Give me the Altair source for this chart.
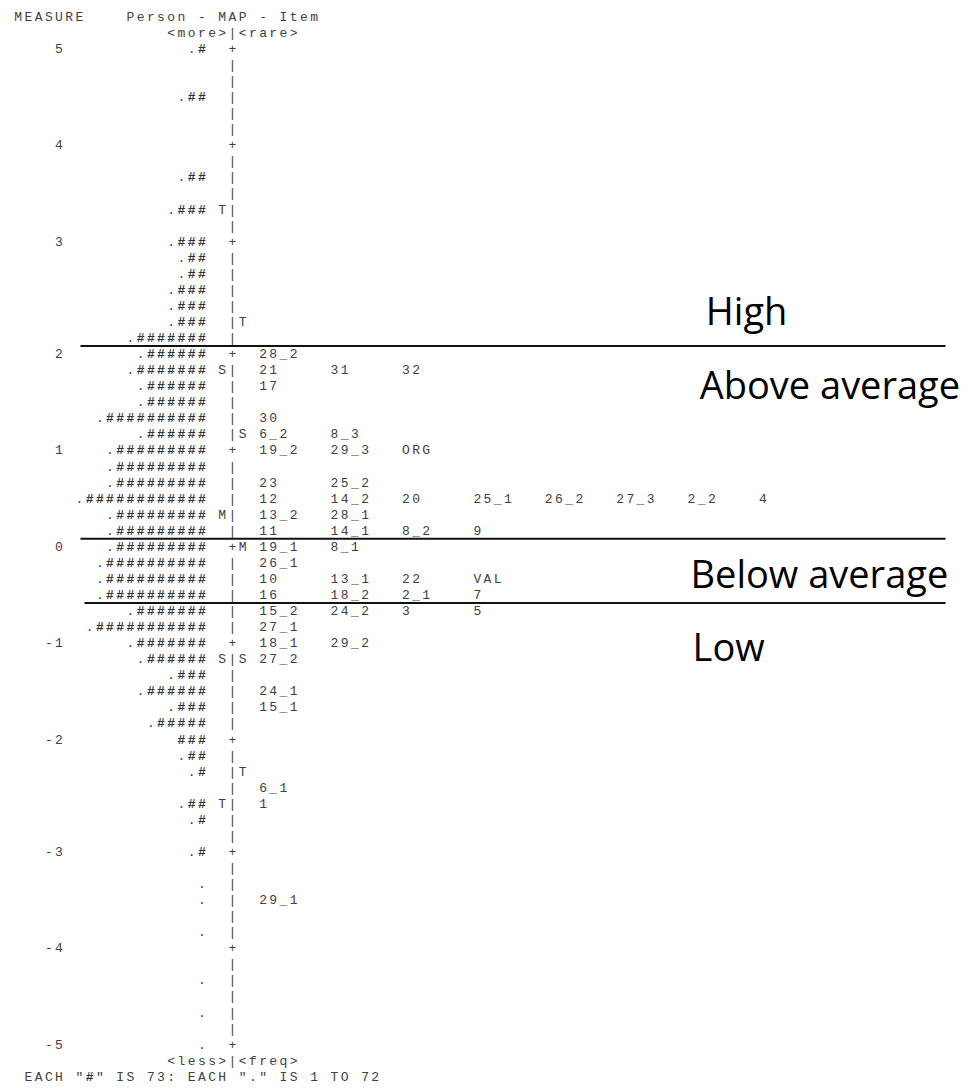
import altair as alt
import pandas as pd

measure_labels = ["5", "4", "3", "2", "1", "0", "-1", "-2", "-3", "-4", "-5"]
measure_rows = [0, 6, 12, 19, 25, 31, 37, 43, 50, 56, 62]

persons = [
    ".#", "", "", ".##", "", "", "",
    "", ".##", "", ".###", "", ".###",
    ".##", ".##", ".###", ".###", ".###", ".#######",
    ".######", ".#######", ".######", ".######", ".##########", ".######",
    ".#########", ".#########", ".#########", ".############", ".#########", ".#########",
    ".#########", ".##########", ".##########", ".##########", ".#######", ".###########",
    ".#######", ".######", ".###", ".######", ".###", ".#####",
    "###", ".##", ".#", "", ".##", ".#", "",
    ".#", "", ".", ".", "", ".",
    "", "", ".", "", ".", "", ".",
]

left_markers = {10: "T", 20: "S", 29: "M", 38: "S", 47: "T"}
right_markers = {17: "T", 24: "S", 31: "M", 38: "S", 45: "T"}

items = {
    19: ["28_2"],
    20: ["21", "31", "32"],
    21: ["17"],
    23: ["30"],
    24: ["6_2", "8_3"],
    25: ["19_2", "29_3", "ORG"],
    27: ["23", "25_2"],
    28: ["12", "14_2", "20", "25_1", "26_2", "27_3", "2_2", "4"],
    29: ["13_2", "28_1"],
    30: ["11", "14_1", "8_2", "9"],
    31: ["19_1", "8_1"],
    32: ["26_1"],
    33: ["10", "13_1", "22", "VAL"],
    34: ["16", "18_2", "2_1", "7"],
    35: ["15_2", "24_2", "3", "5"],
    36: ["27_1"],
    37: ["18_1", "29_2"],
    38: ["27_2"],
    40: ["24_1"],
    41: ["15_1"],
    46: ["6_1"],
    47: ["1"],
    53: ["29_1"],
}

header_lines = [
    (-2, 0, "MEASURE"),
    (-2, 11, "Person - MAP - Item"),
    (-1, 15, "<more>|<rare>"),
    (63, 15, "<less>|<freq>"),
    (64, 1, 'EACH "#" IS 73: EACH "." IS 1 TO 72'),
]

# cut lines between bands (row boundaries, column extent)
cut_rows = [18.5, 30.5, 34.5]
cut_x1 = [6.1, 6.1, 6.5]
cut_x2 = [90.9, 90.9, 90.9]

band_labels = ["High", "Above average", "Below average", "Low"]
band_rows = [16.5, 21.1, 32.85, 37.4]
band_cols = [67.4, 66.8, 65.9, 66.1]

# ---- build a character table in Winsteps' fixed-column layout ----
chars = []


def put(row, col, s):
    for i, ch in enumerate(s):
        if ch != " ":
            chars.append({"row": row, "col": col + i, "ch": ch})


for r, c, s in header_lines:
    put(r, c, s)

for lab, r in zip(measure_labels, measure_rows):
    put(r, 5 - len(lab), lab)

for r, p in enumerate(persons):
    put(r, 19 - len(p), p)
    put(r, 21, "+" if r in measure_rows else "|")
    if r in left_markers:
        put(r, 20, left_markers[r])
    if r in right_markers:
        put(r, 22, right_markers[r])
    for k, it in enumerate(items.get(r, [])):
        put(r, 24 + 7 * k, it)

char_df = pd.DataFrame(chars)
hash_df = char_df[char_df["ch"] == "#"]
other_df = char_df[char_df["ch"] != "#"]
cut_df = pd.DataFrame({"row": cut_rows, "x1": cut_x1, "x2": cut_x2})
band_df = pd.DataFrame({"label": band_labels, "row": band_rows, "col": band_cols})

xs = alt.Scale(domain=[-1, 93.1], nice=False, zero=False)
ys = alt.Scale(domain=[-2.55, 64.2], nice=False, zero=False, reverse=True)

other_layer = alt.Chart(other_df).mark_text(
    font="Liberation Mono", fontSize=13, color="#404040",
    align="center", baseline="middle"
).encode(
    x=alt.X("col:Q", scale=xs, axis=None),
    y=alt.Y("row:Q", scale=ys, axis=None),
    text="ch:N",
)

hash_layer = alt.Chart(hash_df).mark_text(
    font="Liberation Mono", fontSize=13, fontWeight="bold", color="#333333",
    align="center", baseline="middle"
).encode(
    x=alt.X("col:Q", scale=xs, axis=None),
    y=alt.Y("row:Q", scale=ys, axis=None),
    text="ch:N",
)

cut_layer = alt.Chart(cut_df).mark_rule(color="#111111", strokeWidth=2).encode(
    x=alt.X("x1:Q", scale=xs, axis=None),
    x2="x2:Q",
    y=alt.Y("row:Q", scale=ys, axis=None),
)

band_layer = alt.Chart(band_df).mark_text(
    font="Open Sans", fontSize=38, color="#000000",
    align="left", baseline="middle"
).encode(
    x=alt.X("col:Q", scale=xs, axis=None),
    y=alt.Y("row:Q", scale=ys, axis=None),
    text="label:N",
)

chart = alt.layer(other_layer, hash_layer, cut_layer, band_layer).properties(
    width=960, height=1072, padding=0, background="white"
).configure_view(stroke=None)

chart.save("out.html", embed_options={"renderer": "svg", "actions": False})
